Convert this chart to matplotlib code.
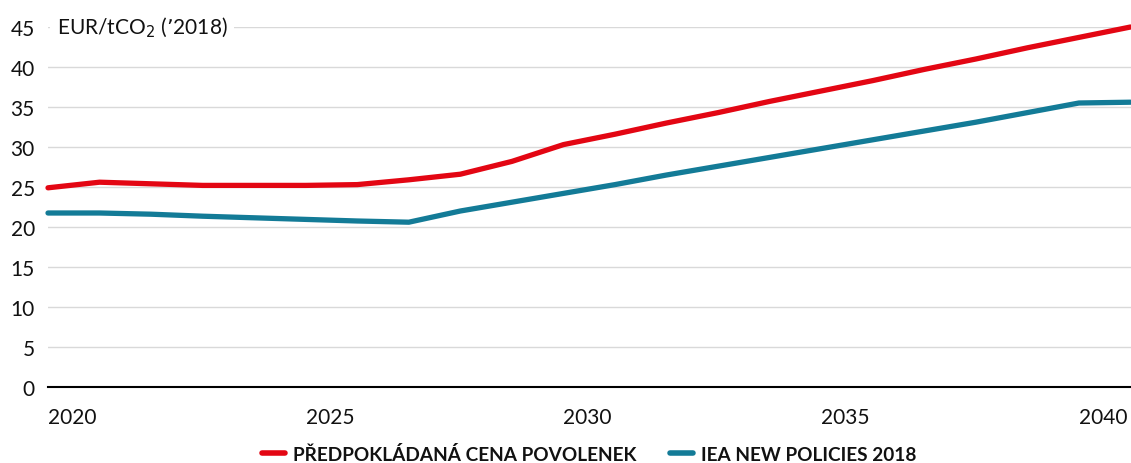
import matplotlib
matplotlib.use("Agg")
import matplotlib.pyplot as plt
from matplotlib.lines import Line2D

plt.rcParams['font.family'] = ['Lato', 'DejaVu Sans']

years = [2019, 2020, 2021, 2022, 2023, 2024, 2025, 2026, 2027, 2028, 2029,
         2030, 2031, 2032, 2033, 2034, 2035, 2036, 2037, 2038, 2039, 2040]
predpoklad = [24.9, 25.6, 25.4, 25.2, 25.2, 25.2, 25.3, 25.9, 26.6, 28.2, 30.3,
              31.6, 33.0, 34.3, 35.7, 37.0, 38.3, 39.7, 41.0, 42.4, 43.7, 45.0]
iea = [21.75, 21.75, 21.6, 21.35, 21.15, 20.95, 20.75, 20.6, 22.0, 23.1, 24.2,
       25.3, 26.5, 27.6, 28.7, 29.8, 30.9, 32.0, 33.1, 34.3, 35.5, 35.6]
xticks = [2020, 2025, 2030, 2035, 2040]
yticks = [0, 5, 10, 15, 20, 25, 30, 35, 40, 45]
labels = ["PŘEDPOKLÁDANÁ CENA POVOLENEK", "IEA NEW POLICIES 2018"]
colors = ["#E30613", "#137B97"]

fig = plt.figure(figsize=(11.31, 4.64), dpi=100)
ax = fig.add_axes([48/1131, 1-388/464, 1-48/1131, 360/464])

xs = [y + 0.53 for y in years]
for vals, c in zip([predpoklad, iea], colors):
    ax.plot(xs, vals, color=c, lw=3.8, solid_capstyle='round',
            solid_joinstyle='round', clip_on=False, zorder=3)

ax.set_xlim(2019.53, 2040.54)
ax.set_ylim(0, 45)
ax.set_xticks(xticks)
ax.set_yticks(yticks)
ax.tick_params(axis='both', length=0, labelsize=15, colors='#111111')
ax.tick_params(axis='x', pad=14.5)
ax.tick_params(axis='y', pad=9.5)
for s in ['top', 'right', 'left']:
    ax.spines[s].set_visible(False)
ax.spines['bottom'].set_color('black')
ax.spines['bottom'].set_linewidth(1.5)
ax.spines['bottom'].set_zorder(4)
for yv in yticks[1:]:
    ax.axhline(yv, color='#D9D9D9', lw=1, zorder=1)

ax.text(2019.7, 45, "EUR/tCO$_2$ (’2018)", fontsize=15, va='center', ha='left',
        color='#111111', zorder=2,
        bbox=dict(facecolor='white', edgecolor='none', pad=5))

handles = [Line2D([0], [0], color=c, lw=4, solid_capstyle='round') for c in colors]
leg = fig.legend(handles, labels, loc='center', bbox_to_anchor=(0.521, 1-455/464),
                 ncol=2, frameon=False, handlelength=1.2, handletextpad=0.45,
                 columnspacing=1.75, borderpad=0, borderaxespad=0,
                 prop={'weight': 'bold', 'size': 13.7})
for t in leg.get_texts():
    t.set_color('#111111')

fig.savefig("out.png", dpi=100)
